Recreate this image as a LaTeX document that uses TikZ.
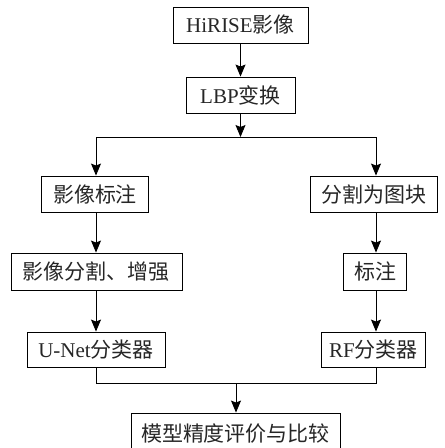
\documentclass[tikz,border=0pt]{standalone}
\usepackage{fontspec}
\setmainfont{Liberation Serif}
\newfontfamily\cjk{Noto Sans CJK SC}
\usetikzlibrary{arrows.meta}
\begin{document}
\begin{tikzpicture}[x=1pt,y=-1pt,
  box/.style={draw, line width=0.9pt, inner sep=0pt, text=black!85,
    font=\fontsize{21}{23}\selectfont},
  arr/.style={line width=0.9pt, -{Stealth[length=12pt,width=10pt,inset=2pt]}},
  ln/.style={line width=0.9pt}]
\useasboundingbox (0,0) rectangle (445,448);
\node[box, minimum width=135pt, minimum height=36pt] (hirise) at (240.5,25) {HiRISE{\cjk 影像}};
\node[box, minimum width=109pt, minimum height=36pt] (lbp) at (240.5,95) {LBP{\cjk 变换}};
\coordinate (split) at (240.5,137);
\coordinate (splitL) at (96,137);
\coordinate (splitR) at (376,137);
\node[box, minimum width=107pt, minimum height=36pt] (biaozhu) at (95,194) {\cjk 影像标注};
\node[box, minimum width=127pt, minimum height=36pt] (fenge) at (374,194) {\cjk 分割为图块};
\node[box, minimum width=171pt, minimum height=37pt] (zengqiang) at (96.5,271.5) {\cjk 影像分割、增强};
\node[box, minimum width=63pt, minimum height=37pt] (biaozhu2) at (375,271.5) {\cjk 标注};
\node[box, minimum width=138pt, minimum height=35pt] (unet) at (96,349.5) {U-Net{\cjk 分类器}};
\node[box, minimum width=104pt, minimum height=35pt] (rf) at (373.5,349.5) {RF{\cjk 分类器}};
\coordinate (mergeL) at (96,383);
\coordinate (mergeR) at (376,383);
\coordinate (merge) at (236,383);
\node[box, minimum width=209pt, minimum height=42pt] (pingjia) at (235.5,434) {\cjk 模型精度评价与比较};

\draw[arr] (hirise.south -| split) -- (lbp.north -| split);
\draw[arr] (lbp.south -| split) -- (split);
\draw[ln] (splitL) -- (splitR);
\draw[arr] (splitL) -- (biaozhu.north -| splitL);
\draw[arr] (splitR) -- (fenge.north -| splitR);
\draw[arr] (biaozhu.south -| splitL) -- (zengqiang.north -| splitL);
\draw[arr] (fenge.south -| splitR) -- (biaozhu2.north -| splitR);
\draw[arr] (zengqiang.south -| splitL) -- (unet.north -| splitL);
\draw[arr] (biaozhu2.south -| splitR) -- (rf.north -| splitR);
\draw[ln] (unet.south -| mergeL) -- (mergeL) -- (mergeR) -- (rf.south -| mergeR);
\draw[arr] (merge) -- (merge |- pingjia.north);
\end{tikzpicture}
\end{document}
